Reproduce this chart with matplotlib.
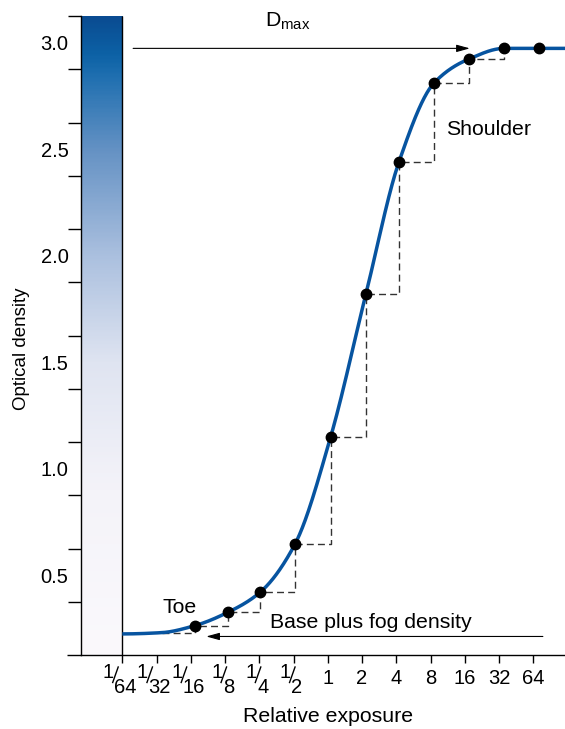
import numpy as np
import matplotlib
matplotlib.use("Agg")
import matplotlib.pyplot as plt
from matplotlib.colors import LinearSegmentedColormap
from matplotlib.transforms import Affine2D, ScaledTranslation
from matplotlib.lines import Line2D

plt.rcParams['font.family'] = ['Liberation Sans', 'DejaVu Sans']

# ---- data -------------------------------------------------------------
# log2 of relative exposure for each step of the step wedge
step_log2 = [-3.88, -2.91, -1.98, -0.96, 0.08, 1.11, 2.08, 3.11, 4.12, 5.15, 6.17]
# optical density measured for each step
step_density = [0.263, 0.326, 0.419, 0.645, 1.147, 1.818, 2.441, 2.812, 2.923, 2.973, 2.973]
# unexposed part of the curve (base plus fog)
base_log2 = [-6.0, -4.85]
base_density = [0.224, 0.230]
# flat tail of the curve beyond the last step
tail_log2 = [6.93]
tail_density = [2.973]

d_max = 2.973
base_fog_arrow = 0.212

tick_log2 = [-6, -5, -4, -3, -2, -1, 0, 1, 2, 3, 4, 5, 6]
tick_labels = ['1/64', '1/32', '1/16', '1/8', '1/4', '1/2',
               '1', '2', '4', '8', '16', '32', '64']
density_labels = [0.5, 1.0, 1.5, 2.0, 2.5, 3.0]
density_ticks = [0.375, 0.625, 0.875, 1.125, 1.375, 1.625, 1.875,
                 2.125, 2.375, 2.625, 2.875, 3.125]

# gradient of the density scale bar (density -> colour)
bar_stops = [(0.125, '#fbf9fc'), (0.9, '#f4f3f9'), (1.5, '#dfe4f1'),
             (2.0, '#abc0df'), (2.5, '#6592c4'), (2.85, '#1f6fb0'),
             (2.95, '#0d62a6'), (3.125, '#0a4c92')]


def pchip(x, y, xq):
    """Monotone piecewise cubic Hermite curve through (x, y)."""
    x = np.asarray(x, float)
    y = np.asarray(y, float)
    h = np.diff(x)
    delta = np.diff(y) / h
    n = len(x)
    m = np.zeros(n)
    for k in range(1, n - 1):
        if delta[k - 1] * delta[k] > 0:
            w1 = 2 * h[k] + h[k - 1]
            w2 = h[k] + 2 * h[k - 1]
            m[k] = (w1 + w2) / (w1 / delta[k - 1] + w2 / delta[k])
    idx = np.clip(np.searchsorted(x, xq) - 1, 0, n - 2)
    t = (xq - x[idx]) / h[idx]
    h00 = 2 * t**3 - 3 * t**2 + 1
    h10 = t**3 - 2 * t**2 + t
    h01 = -2 * t**3 + 3 * t**2
    h11 = t**3 - t**2
    return (h00 * y[idx] + h10 * h[idx] * m[idx]
            + h01 * y[idx + 1] + h11 * h[idx] * m[idx + 1])


# ---- figure -----------------------------------------------------------
W, H = 565, 729
fig = plt.figure(figsize=(W / 100, H / 100), dpi=100)
ax = fig.add_axes([81 / W, 74 / H, 484 / W, 639 / H])

xmin, xmax = -7.206, 6.926
ymin, ymax = 0.125, 3.125
ax.set_xlim(xmin, xmax)
ax.set_ylim(ymin, ymax)

for side in ('top', 'right'):
    ax.spines[side].set_visible(False)
for side in ('left', 'bottom'):
    ax.spines[side].set_linewidth(1.0)

fs_tick = 14.5
fs_text = 15.3

# density scale bar
cmap = LinearSegmentedColormap.from_list(
    'density_bar', [((d - ymin) / (ymax - ymin), c) for d, c in bar_stops])
grad = np.linspace(ymin, ymax, 400).reshape(-1, 1)
ax.imshow(grad, extent=[xmin, -6, ymin, ymax], origin='lower', aspect='auto',
          cmap=cmap, vmin=ymin, vmax=ymax, zorder=0, interpolation='bilinear')
ax.plot([-6, -6], [ymin, ymax], color='black', lw=1.0, zorder=3,
        solid_capstyle='butt')
# extension of the exposure axis below the scale bar ticks
ax.plot([-7.615, xmin], [ymin, ymin], color='black', lw=1.0, clip_on=False,
        solid_capstyle='butt')

# y axis: tick marks at band edges, labels in the middle of each band
ax.set_yticks(density_labels)
ax.set_yticklabels([f'{v:.1f}' for v in density_labels], fontsize=fs_tick)
ax.tick_params(axis='y', which='major', length=0, pad=9)
ax.set_yticks(density_ticks, minor=True)
ax.tick_params(axis='y', which='minor', length=9.4, width=1.0, direction='out')

# x axis ticks with hand-set fraction labels
ax.set_xticks(tick_log2)
ax.set_xticklabels([])
ax.tick_params(axis='x', which='major', length=6, width=1.0, direction='out')

px = 0.72  # points per pixel at 100 dpi
dw = 0.556 * fs_tick


def tick_offset_transform(u):
    """Transform whose data units are points, measured from the tick at u."""
    return (Affine2D().scale(1 / 72) + fig.dpi_scale_trans
            + ScaledTranslation(u, 0, ax.get_xaxis_transform()))


for u, lab in zip(tick_log2, tick_labels):
    if '/' in lab:
        num, den = lab.split('/')
        b = -2 * px - (len(den) - 1) * dw / 2
        ax.annotate(num, xy=(u, 0), xycoords=('data', 'axes fraction'),
                    xytext=(b - 0.6, -16.4), textcoords='offset points',
                    ha='right', va='baseline', fontsize=fs_tick)
        ax.annotate(den, xy=(u, 0), xycoords=('data', 'axes fraction'),
                    xytext=(b - 0.2, -27.2), textcoords='offset points',
                    ha='left', va='baseline', fontsize=fs_tick)
        # fraction slash
        slash = Line2D([b - 2 * px, b + 3.5 * px], [-27.5 * px, -12 * px],
                       transform=tick_offset_transform(u), color='black',
                       lw=1.0, clip_on=False)
        fig.add_artist(slash)
    else:
        ax.annotate(lab, xy=(u, 0), xycoords=('data', 'axes fraction'),
                    xytext=(0, -21.2), textcoords='offset points',
                    ha='center', va='baseline', fontsize=fs_tick)

ax.text(0, -67 / 639, 'Relative exposure', transform=ax.get_xaxis_transform(),
        fontsize=fs_text, ha='center', va='baseline')
fig.text(22 / W, 1 - 349 / H, 'Optical density', rotation=90,
         ha='center', va='center', fontsize=13.5)

# characteristic curve
node_x = base_log2 + step_log2 + tail_log2
node_y = base_density + step_density + tail_density
uu = np.linspace(-6, xmax, 800)
ax.plot(uu, pchip(node_x, node_y, uu), color='#0754a0', lw=2.5, zorder=4,
        solid_capstyle='butt')

# dashed staircase between steps
stair_x = [base_log2[-1]] + step_log2
stair_y = [base_density[-1]] + step_density
ax.plot(stair_x, stair_y, drawstyle='steps-post', color='#333333', lw=1.0,
        linestyle=(0, (5, 3)), zorder=3)

ax.plot(step_log2, step_density, 'o', color='black', ms=7.5, zorder=5)

# annotations
arrow = dict(arrowstyle='-|>,head_length=0.8,head_width=0.22', color='black',
             lw=0.8, shrinkA=0, shrinkB=0)
ax.annotate('', xy=(4.148, d_max), xytext=(-5.684, d_max), arrowprops=arrow)
ax.annotate('', xy=(-3.55, base_fog_arrow), xytext=(6.28, base_fog_arrow),
            arrowprops=arrow)
ax.text(-1.162, 3.073, r'$\mathregular{D_{max}}$', fontsize=fs_text,
        ha='center', va='baseline')
ax.text(1.261, 0.2518, 'Base plus fog density', fontsize=fs_text,
        ha='center', va='baseline')
ax.text(-4.315, 0.350, 'Toe', fontsize=fs_text, ha='center', va='center')
ax.text(4.707, 2.590, 'Shoulder', fontsize=fs_text, ha='center', va='center')

fig.savefig('out.png', dpi=100)
